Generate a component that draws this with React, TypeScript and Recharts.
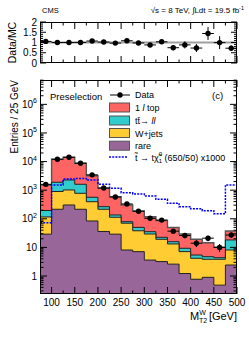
import React from 'react';
import { ComposedChart, Area, Line, Scatter, ErrorBar, XAxis, YAxis, ReferenceLine } from 'recharts';

// bin lower edges (GeV), 25 GeV bins
const binLow = [75, 100, 125, 150, 175, 200, 225, 250, 275, 300, 325, 350, 375, 400, 425, 450, 475];
// stacked backgrounds, bottom to top
const rare = [29, 215, 304, 215, 84, 36, 29, 8.1, 7.1, 3.6, 3.2, 2.6, 1.22, 0.77, 0.9, 0.48, 2.42];
const wjets = [87, 685, 712, 564, 312, 179, 84, 62, 31, 25.8, 16, 10.6, 5.9, 3.4, 2.94, 3.36, 5.7];
const ttll = [79, 990, 1259, 829, 169, 50, 23, 9, 12, 6, 3.3, 2.6, 2.2, 1.24, 0.89, 0.52, 10.1];
const oneLepTop = [1325, 10140, 11855, 7112, 2648, 899, 457, 225, 137, 82.6, 64.5, 33.8, 20.1, 13.8, 9.87, 5.7, 19.2];
// stop signal x1000
const signal = [73, 1520, 2450, 2550, 2250, 1608, 1164, 820, 736, 627, 481, 348, 265, 225, 192, 150, 1520];
// observed data
const observed = [1600, 12000, 14100, 8750, 3440, 1190, 575, 330, 183, 104, 90, 37, 26, 14, 21, 10, 27];

const xTicks = [100, 125, 150, 175, 200, 225, 250, 275, 300, 325, 350, 375, 400, 425, 450, 475, 500];
const ratioTicks = [0, 0.1, 0.2, 0.3, 0.4, 0.5, 0.6, 0.7, 0.8, 0.9, 1, 1.1, 1.2, 1.3, 1.4, 1.5, 1.6, 1.7, 1.8, 1.9, 2];

const BIN = 25;
const Y_MIN = 0.235;
const Y_MAX = 7.1e6;

// frame geometry
const L = 40, R = 237, T = 80, B = 294, RT = 22, RB = 63;
const font = '"Liberation Sans", Arial, Helvetica, sans-serif';

const stackRows = binLow.map((x, i) => {
  const s1 = rare[i];
  const s2 = s1 + wjets[i];
  const s3 = s2 + ttll[i];
  const tot = s3 + oneLepTop[i];
  return { x, s1, s2, s3, tot, sig: signal[i] };
});
const lastRow = stackRows[stackRows.length - 1];
const histRows = [...stackRows, { ...lastRow, x: lastRow.x + BIN }];

const dataRows = binLow.map((x, i) => ({ x: x + BIN / 2, y: observed[i], ey: Math.sqrt(observed[i]), ex: BIN / 2 }));
const ratioRows = binLow.map((x, i) => ({
  x: x + BIN / 2,
  y: observed[i] / stackRows[i].tot,
  ey: Math.sqrt(observed[i]) / stackRows[i].tot,
  ex: BIN / 2,
}));

const logTicks: number[] = [];
for (let e = -1; e <= 6; e++) {
  for (let k = 1; k <= 9; k++) {
    const v = k * Math.pow(10, e);
    if (v >= Y_MIN && v <= Y_MAX) logTicks.push(v);
  }
}

const powLabel = (e: number) =>
  e === 0 ? '1' : e === 1 ? '10' : (<>10<tspan dy={-4.5} fontSize={7}>{e}</tspan></>);

const LogTick = (p: any) => {
  const v = p.payload.value;
  const y = p.y;
  const lg = Math.log10(v);
  const major = Math.abs(lg - Math.round(lg)) < 1e-6;
  const len = major ? 7 : 3.5;
  return (
    <g>
      <line x1={L} x2={L + len} y1={y} y2={y} stroke="#000" />
      <line x1={R} x2={R - len} y1={y} y2={y} stroke="#000" />
      {major && (
        <text x={L - 3} y={y + 3.6} textAnchor="end" fontSize={10} fontFamily={font}>{powLabel(Math.round(lg))}</text>
      )}
    </g>
  );
};

const RatioYTick = (p: any) => {
  const v = p.payload.value;
  const y = p.y;
  const major = Math.abs(v * 2 - Math.round(v * 2)) < 1e-6;
  const len = major ? 6 : 3;
  return (
    <g>
      <line x1={L} x2={L + len} y1={y} y2={y} stroke="#000" />
      <line x1={R} x2={R - len} y1={y} y2={y} stroke="#000" />
      {major && (
        <text x={L - 3} y={y + 3.6} textAnchor="end" fontSize={10} fontFamily={font}>{String(v)}</text>
      )}
    </g>
  );
};

const makeXTick = (top: number, bottom: number, labels: boolean) => (p: any) => {
  const v = p.payload.value;
  const x = p.x;
  const major = v % 50 === 0;
  const len = major ? 7 : 3.5;
  return (
    <g>
      <line x1={x} x2={x} y1={bottom} y2={bottom - len} stroke="#000" />
      <line x1={x} x2={x} y1={top} y2={top + len} stroke="#000" />
      {labels && major && (
        <text x={x} y={bottom + 12} textAnchor="middle" fontSize={10} fontFamily={font}>{v}</text>
      )}
    </g>
  );
};

const dot = (p: any) => <circle cx={p.cx} cy={p.cy} r={2.7} fill="#000" />;

const Overlay = () => (
  <svg width={249} height={338} style={{ position: 'absolute', left: 0, top: 0, pointerEvents: 'none' }} fontFamily={font}>
    <rect x={L + 0.5} y={RT + 0.5} width={R - L - 1} height={RB - RT - 1} fill="none" stroke="#000" />
    <rect x={L + 0.5} y={T + 0.5} width={R - L - 1} height={B - T - 1} fill="none" stroke="#000" />
    <text x={42} y={12.5} fontSize={7.5}>CMS</text>
    <text x={244} y={12.5} fontSize={8} textAnchor="end">
      √s = 8 TeV,  ∫Ldt = 19.5 fb<tspan dy={-3} fontSize={5.5}>-1</tspan>
    </text>
    <text transform={`translate(15.5,${(RT + RB) / 2}) rotate(-90)`} textAnchor="middle" fontSize={10.5}>Data/MC</text>
    <text transform={`translate(18,${T}) rotate(-90)`} textAnchor="end" fontSize={10}>Entries / 25 GeV</text>
    <text x={R} y={320} textAnchor="end" fontSize={11}>
      M<tspan dy={2.5} fontSize={7}>T2</tspan><tspan dx={-8} dy={-8} fontSize={7}>W</tspan><tspan dx={3} dy={5.5} fontSize={11}>[GeV]</tspan>
    </text>

    <text x={50} y={100} fontSize={9.5}>Preselection</text>
    <text x={212} y={98.5} fontSize={9.5}>(c)</text>

    <line x1={110} x2={130} y1={95} y2={95} stroke="#000" />
    <circle cx={120} cy={95} r={2.7} fill="#000" />
    <text x={135} y={98.3} fontSize={9}>Data</text>

    <rect x={109.5} y={103} width={20} height={9} fill="#ff6464" stroke="#555" />
    <text x={135} y={111} fontSize={9}>1 <tspan fontStyle="italic">l</tspan> top</text>

    <rect x={109.5} y={116} width={20} height={9} fill="#33cccc" stroke="#555" />
    <text x={135} y={124} fontSize={9}>tt̄→ <tspan fontStyle="italic">ll</tspan></text>

    <rect x={109.5} y={128.5} width={20} height={9} fill="#ffcc33" stroke="#555" />
    <text x={135} y={136.5} fontSize={9}>W+jets</text>

    <rect x={109.5} y={141.2} width={20} height={9} fill="#996699" stroke="#555" />
    <text x={135} y={149} fontSize={9}>rare</text>

    <line x1={109} x2={128} y1={157} y2={157} stroke="#0000ff" strokeWidth={1.5} strokeDasharray="2 1.2" />
    <text x={135} y={160.5} fontSize={9}>
      t̃ → tχ̃<tspan dy={2.5} fontSize={6}>1</tspan><tspan dx={-3.3} dy={-7} fontSize={6}>0</tspan>
      <tspan dy={4.5}> (650/50) x1000</tspan>
    </text>
  </svg>
);

export default function App() {
  return (
    <div style={{ position: 'absolute', left: 0, top: 0, width: 249, height: 338, background: '#fff' }}>
      <div style={{ position: 'absolute', left: 0, top: 0 }}>
        <ComposedChart width={249} height={338} data={histRows} margin={{ top: T, right: 249 - R, left: 0, bottom: 0 }}>
          <Area type="stepAfter" dataKey="tot" fill="#ff6464" fillOpacity={1} stroke="#555" strokeWidth={1.4} baseValue={Y_MIN} isAnimationActive={false} dot={false} activeDot={false} />
          <Area type="stepAfter" dataKey="s3" fill="#33cccc" fillOpacity={1} stroke="#222" strokeWidth={1} baseValue={Y_MIN} isAnimationActive={false} dot={false} activeDot={false} />
          <Area type="stepAfter" dataKey="s2" fill="#ffcc33" fillOpacity={1} stroke="#222" strokeWidth={1} baseValue={Y_MIN} isAnimationActive={false} dot={false} activeDot={false} />
          <Area type="stepAfter" dataKey="s1" fill="#996699" fillOpacity={1} stroke="#222" strokeWidth={1} baseValue={Y_MIN} isAnimationActive={false} dot={false} activeDot={false} />
          <Line type="stepAfter" dataKey="sig" stroke="#0000ff" strokeWidth={1.5} strokeDasharray="2 1.2" dot={false} activeDot={false} isAnimationActive={false} />
          <Scatter data={dataRows} dataKey="y" shape={dot} isAnimationActive={false}>
            <ErrorBar dataKey="ey" direction="y" width={0} stroke="#000" strokeWidth={1} />
            <ErrorBar dataKey="ex" direction="x" width={0} stroke="#000" strokeWidth={1} />
          </Scatter>
          <XAxis type="number" dataKey="x" domain={[75, 500]} ticks={xTicks} interval={0} height={338 - B}
            axisLine={false} tickLine={false} tick={makeXTick(T, B, true)} allowDataOverflow />
          <YAxis type="number" scale="log" domain={[Y_MIN, Y_MAX]} allowDataOverflow ticks={logTicks} interval={0}
            width={L} axisLine={false} tickLine={false} tick={(p: any) => <LogTick {...p} />} />
        </ComposedChart>
      </div>
      <div style={{ position: 'absolute', left: 0, top: 0 }}>
        <ComposedChart width={249} height={RB + 12} data={ratioRows} margin={{ top: RT, right: 249 - R, left: 0, bottom: 11 }}>
          <ReferenceLine y={1} stroke="#a0a0a0" strokeWidth={1.8} />
          <Scatter dataKey="y" shape={dot} isAnimationActive={false}>
            <ErrorBar dataKey="ey" direction="y" width={0} stroke="#000" strokeWidth={1} />
            <ErrorBar dataKey="ex" direction="x" width={0} stroke="#000" strokeWidth={1} />
          </Scatter>
          <XAxis type="number" dataKey="x" domain={[75, 500]} ticks={xTicks} interval={0} height={1}
            axisLine={false} tickLine={false} tick={makeXTick(RT, RB, false)} allowDataOverflow />
          <YAxis type="number" domain={[0, 2]} ticks={ratioTicks} interval={0} allowDataOverflow
            width={L} axisLine={false} tickLine={false} tick={(p: any) => <RatioYTick {...p} />} />
        </ComposedChart>
      </div>
      <Overlay />
    </div>
  );
}
